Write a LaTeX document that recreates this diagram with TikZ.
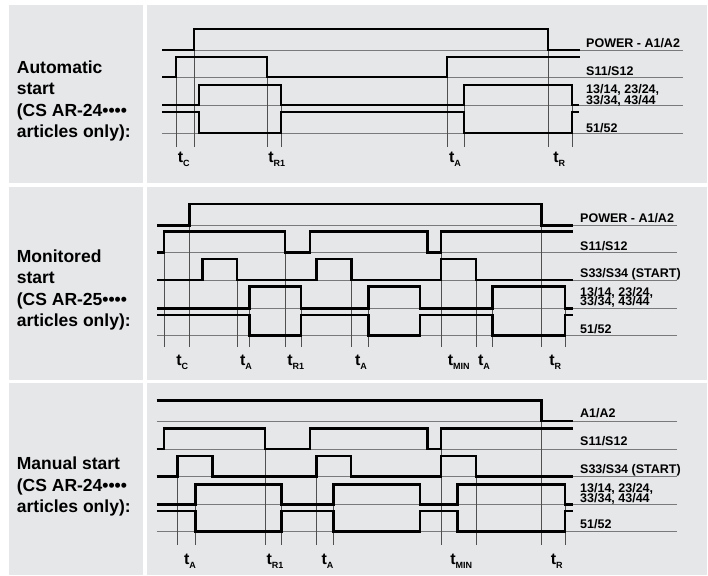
\documentclass[tikz,border=0pt]{standalone}
\usepackage{fontspec}
\setmainfont{Liberation Sans}
\usetikzlibrary{positioning}

\definecolor{panelgray}{HTML}{E6E7E9}
\definecolor{guidegray}{HTML}{505050}
\definecolor{basegray}{HTML}{7A7A7A}

\newcommand{\tsub}[1]{t\raisebox{-4pt}{\fontsize{9}{9}\selectfont #1}}

\begin{document}
\begin{tikzpicture}[x=1pt,y=-1pt,line join=miter,
                    wave/.style={line width=2.6pt},
                    guide/.style={guidegray,line width=0.9pt},
                    sigbase/.style={basegray,line width=0.9pt}]
  \tikzstyle{modelabel}=[anchor=base west,inner sep=0pt,align=left,
                         font=\bfseries\fontsize{17.5}{21.5}\selectfont]
  \tikzstyle{siglabel}=[anchor=base west,inner sep=0pt,
                        font=\bfseries\fontsize{12.5}{12.5}\selectfont]
  \tikzstyle{tlabel}=[anchor=base,inner sep=0pt,
                      font=\bfseries\fontsize{16}{16}\selectfont]

  \useasboundingbox (0,0) rectangle (708,575);
  \fill[white] (0,0) rectangle (708,575);
  \foreach \top/\bot in {5.5/182.7,186.7/380,383.3/575}{
    \fill[panelgray] (9,\top) rectangle (142.7,\bot);
    \fill[panelgray] (146.7,\top) rectangle (707,\bot);
  }

  % automatic start (base = last line)
  \node[modelabel] (autotxt) at (16.7,137.7)
    {Automatic\\start\\(CS AR-24••••\\articles only):};
  \foreach \y in {50,77,105,133} \draw[sigbase] (162,\y) -- (683,\y);
  \foreach \x/\t in {176/57,194/29,267/57,281/85,447/57,464/85,548/29,572/85}
    \draw[guide] (\x,\t) -- (\x,147);
  \draw[wave] (162,50) -| (194,29) -| (548,50) -- (580,50);
  \draw[wave] (162,77) -| (176,57) -| (267,77) -| (447,57) -- (580,57);
  \draw[wave] (162,105) -| (199,85) -| (281,105) -| (464,85) -| (572,105) -- (579,105);
  \draw[wave] (162,112) -| (199,133) -| (281,112) -| (464,133) -| (572,112) -- (579,112);
  \node[siglabel] (autopw)  at (586,47.5)  {POWER - A1/A2};
  \node[siglabel] (autos11) at (586,76)    {S11/S12};
  \node[siglabel] (autono1) at (586,93.3)  {13/14, 23/24,};
  \node[siglabel] (autono2) at (586,104)   {33/34, 43/44};
  \node[siglabel] (autonc)  at (586,132)   {51/52};
  \node[tlabel] (autotc)  at (183.7,162.7) {\tsub{C}};
  \node[tlabel] (autotr1) at (276.7,162.7) {\tsub{R1}};
  \node[tlabel] (autota)  at (455,162.7)   {\tsub{A}};
  \node[tlabel] (autotr)  at (559.2,162.7) {\tsub{R}};

  % monitored start
  \node[modelabel] (montxt) at (16.7,326.7)
    {Monitored\\start\\(CS AR-25••••\\articles only):};
  \foreach \y in {225.7,252.7,280,308.3,335.7} \draw[sigbase] (157,\y) -- (677,\y);
  \foreach \x/\t in {164/231.7,189.5/204,237/259,249.3/286.7,285/231.7,301/286.7,
                     351.5/259,368.3/286.7,441/231.7,476/259,492.7/286.7,541.7/204,565/286.7}
    \draw[guide] (\x,\t) -- (\x,346.7);
  \draw[wave] (157,225.7) -| (189.5,204) -| (541.7,225.7) -- (572.7,225.7);
  \draw[wave] (157,252.7) -| (164,231.7) -| (285,252.7) -| (310,231.7) -| (427.3,252.7)
              -| (441,231.7) -- (572.7,231.7);
  \draw[wave] (157,280) -| (202.7,259) -| (237,280) -| (316.7,259) -| (351.5,280)
              -| (441,259) -| (476,280) -- (572.7,280);
  \draw[wave] (157,308.3) -| (249.3,286.7) -| (301,308.3) -| (368.3,286.7) -| (420,308.3)
              -| (492.7,286.7) -| (565,308.3) -- (572.7,308.3);
  \draw[wave] (157,315) -| (249.3,335.7) -| (301,315) -| (368.3,335.7) -| (420,315)
              -| (492.7,335.7) -| (565,315) -- (572.7,315);
  \node[siglabel] (monpw)  at (580,222.7) {POWER - A1/A2};
  \node[siglabel] (mons11) at (580,250)   {S11/S12};
  \node[siglabel] (mons33) at (580,277.7) {S33/S34 (START)};
  \node[siglabel] (monno1) at (580,296.7) {13/14, 23/24,};
  \node[siglabel] (monno2) at (580,305.7) {33/34, 43/44};
  \node[siglabel] (monnc)  at (580,333.3) {51/52};
  \node[tlabel] (montc)  at (182.3,365) {\tsub{C}};
  \node[tlabel] (monta1) at (246,365)   {\tsub{A}};
  \node[tlabel] (montr1) at (295.7,365) {\tsub{R1}};
  \node[tlabel] (monta2) at (361,365)   {\tsub{A}};
  \node[tlabel] (montmin) at (458.7,365) {\tsub{MIN}};
  \node[tlabel] (monta3) at (484,365)   {\tsub{A}};
  \node[tlabel] (montr)  at (555.3,365) {\tsub{R}};

  % manual start
  \node[modelabel] (mantxt) at (16.7,512.7)
    {Manual start\\(CS AR-24••••\\articles only):};
  \foreach \y in {421,449,476.7,504.3,531.7} \draw[sigbase] (156.7,\y) -- (676.7,\y);
  \foreach \x/\t in {177.7/456,195.7/484.3,265/428.3,281.7/484.3,316.7/456,333.3/484.3,
                     441/428.3,476/456,541.7/400.7,565/484.3}
    \draw[guide] (\x,\t) -- (\x,545);
  \draw[wave] (156.7,400.7) -| (541.7,421) -- (572.7,421);
  \draw[wave] (156.7,449) -| (164,428.3) -| (265,449) -| (310,428.3) -| (427.3,449)
              -| (441,428.3) -- (572.7,428.3);
  \draw[wave] (156.7,476.7) -| (177.7,456) -| (212.7,476.7) -| (316.7,456) -| (351,476.7)
              -| (441,456) -| (476,476.7) -- (572.7,476.7);
  \draw[wave] (156.7,504.3) -| (195.7,484.3) -| (281.7,504.3) -| (333.3,484.3) -| (420,504.3)
              -| (457.7,484.3) -| (565,504.3) -- (572.7,504.3);
  \draw[wave] (156.7,511) -| (195.7,531.7) -| (281.7,511) -| (333.3,531.7) -| (420,511)
              -| (457.7,531.7) -| (565,511) -- (572.7,511);
  \node[siglabel] (manpw)  at (580,417.7) {A1/A2};
  \node[siglabel] (mans11) at (580,445.7) {S11/S12};
  \node[siglabel] (mans33) at (580,473.3) {S33/S34 (START)};
  \node[siglabel] (manno1) at (580,492.3) {13/14, 23/24,};
  \node[siglabel] (manno2) at (580,502.3) {33/34, 43/44};
  \node[siglabel] (mannc)  at (580,528.3) {51/52};
  \node[tlabel] (manta1) at (190,564.3)   {\tsub{A}};
  \node[tlabel] (mantr1) at (275,564.3)   {\tsub{R1}};
  \node[tlabel] (manta2) at (327.5,564.3) {\tsub{A}};
  \node[tlabel] (mantmin) at (461.3,564.3) {\tsub{MIN}};
  \node[tlabel] (mantr)  at (556.7,564.3) {\tsub{R}};
\end{tikzpicture}
\end{document}
